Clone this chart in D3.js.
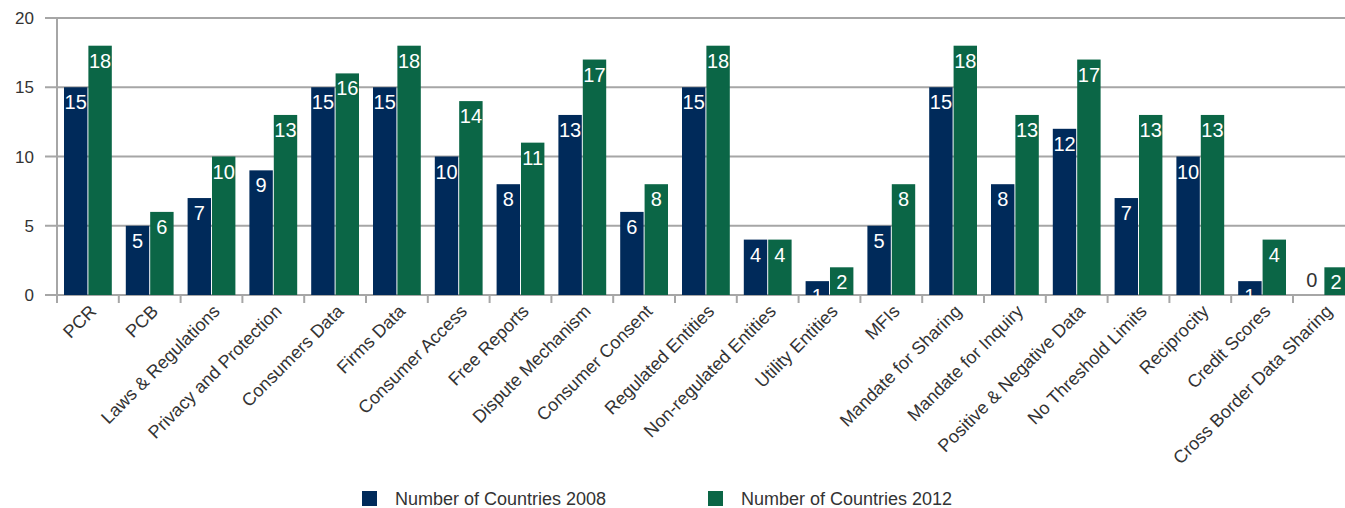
<!DOCTYPE html>
<html><head><meta charset="utf-8">
<script src="https://cdn.jsdelivr.net/npm/d3@7/dist/d3.min.js"></script>
<style>body{margin:0;background:#fff;} svg{display:block;font-family:"Liberation Sans",Arial,sans-serif;}</style>
</head><body><svg id="c" width="1345" height="508"></svg>
<script>
const categories = ["PCR","PCB","Laws & Regulations","Privacy and Protection","Consumers Data","Firms Data","Consumer Access","Free Reports","Dispute Mechanism","Consumer Consent","Regulated Entities","Non-regulated Entities","Utility Entities","MFIs","Mandate for Sharing","Mandate for Inquiry","Positive & Negative Data","No Threshold Limits","Reciprocity","Credit Scores","Cross Border Data Sharing"];
const values2008 = [15,5,7,9,15,15,10,8,13,6,15,4,1,5,15,8,12,7,10,1,0];
const values2012 = [18,6,10,13,16,18,14,11,17,8,18,4,2,8,18,13,17,13,13,4,2];
const seriesNames = ["Number of Countries 2008","Number of Countries 2012"];
const colors = ["#002a5a","#0b6646"];
const yTicks = [0,5,10,15,20];

(function(){
const svg = d3.select("#c");
const mLeft = 57, mTop = 18, mBottom = 295, band = 61.8;
const x = d3.scaleBand().domain(categories).range([mLeft, mLeft + band*categories.length]).paddingInner(0).paddingOuter(0);
const y = d3.scaleLinear().domain([0,20]).range([mBottom, mTop]);
const x1 = d3.scaleBand().domain([0,1]).range([7, band-7]).paddingInner(0.04);

svg.append("g").selectAll("line").data(yTicks).join("line")
  .attr("x1", mLeft-12).attr("x2", 1345).attr("y1", d=>y(d)).attr("y2", d=>y(d))
  .attr("stroke","#a6a6a6").attr("stroke-width",2);
svg.append("g").selectAll("text").data(yTicks).join("text")
  .attr("x", 34).attr("y", d=>y(d)+6).attr("text-anchor","end")
  .attr("font-size",17).attr("fill","#333").text(d=>d);
svg.append("line").attr("x1",mLeft).attr("x2",mLeft).attr("y1",mTop).attr("y2",mBottom+7).attr("stroke","#a6a6a6").attr("stroke-width",2);
svg.append("g").selectAll("line").data(d3.range(categories.length+1)).join("line")
  .attr("x1", i=>mLeft+i*band).attr("x2", i=>mLeft+i*band).attr("y1",mBottom).attr("y2",mBottom+8)
  .attr("stroke","#a6a6a6").attr("stroke-width",2);

const data = categories.map((c,i)=>({c, v:[values2008[i], values2012[i]]}));
const g = svg.append("g").selectAll("g").data(data).join("g").attr("transform", d=>`translate(${x(d.c)},0)`);
g.selectAll("rect").data(d=>d.v.map((v,k)=>({v,k}))).join("rect")
  .attr("x", d=>x1(d.k)).attr("width", x1.bandwidth())
  .attr("y", d=>y(d.v)).attr("height", d=>mBottom-y(d.v)).attr("fill", d=>colors[d.k]);
g.selectAll("text").data(d=>d.v.map((v,k)=>({v,k}))).join("text")
  .attr("x", d=>x1(d.k)+x1.bandwidth()/2)
  .attr("y", d=> d.v===0 ? mBottom-8 : y(d.v)+22)
  .attr("text-anchor","middle").attr("font-size",20)
  .attr("fill", d=> d.v===0 ? "#333" : "#fff").text(d=>d.v);

svg.append("g").selectAll("text").data(categories).join("text")
  .attr("transform", d=>`translate(${x(d)+band/2+5},${mBottom+13}) rotate(-45)`)
  .attr("text-anchor","end").attr("dy","0.35em").attr("font-size",18).attr("fill","#333").text(d=>d);

const leg = svg.append("g");
[362, 708].forEach((lx,k)=>{
  leg.append("rect").attr("x",lx).attr("y",491).attr("width",15).attr("height",15).attr("fill",colors[k]);
  leg.append("text").attr("x",lx+33).attr("y",505).attr("font-size",18).attr("fill","#333").text(seriesNames[k]);
});
})();
</script></body></html>
